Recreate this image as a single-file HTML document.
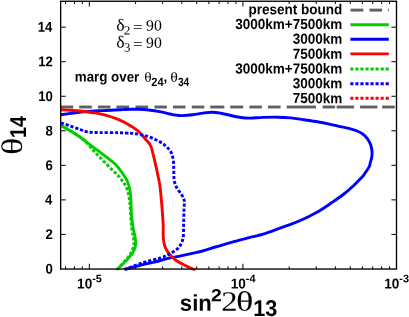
<!DOCTYPE html>
<html><head><meta charset="utf-8"><title>plot</title>
<style>html,body{margin:0;padding:0;background:#fff}body{width:409px;height:317px;position:relative;overflow:hidden}</style></head>
<body>
<svg width="409" height="317" viewBox="0 0 409 317" style="position:absolute;left:0;top:0">
<defs><clipPath id="c"><rect x="60.65" y="1.25" width="335.85" height="269.40"/></clipPath></defs>
<g fill="none" stroke-width="2.90" stroke-linejoin="round" clip-path="url(#c)">
<rect x="60.90" y="105.55" width="12.40" height="2.9" fill="#606060" stroke="none"/>
<rect x="79.20" y="105.55" width="12.60" height="2.9" fill="#606060" stroke="none"/>
<rect x="98.00" y="105.55" width="12.50" height="2.9" fill="#606060" stroke="none"/>
<rect x="116.50" y="105.55" width="12.50" height="2.9" fill="#606060" stroke="none"/>
<rect x="135.50" y="105.55" width="12.60" height="2.9" fill="#606060" stroke="none"/>
<rect x="154.40" y="105.55" width="12.50" height="2.9" fill="#606060" stroke="none"/>
<rect x="173.00" y="105.55" width="12.50" height="2.9" fill="#606060" stroke="none"/>
<rect x="191.80" y="105.55" width="12.50" height="2.9" fill="#606060" stroke="none"/>
<rect x="210.30" y="105.55" width="14.00" height="2.9" fill="#606060" stroke="none"/>
<rect x="230.20" y="105.55" width="13.00" height="2.9" fill="#606060" stroke="none"/>
<rect x="249.40" y="105.55" width="12.50" height="2.9" fill="#606060" stroke="none"/>
<rect x="267.90" y="105.55" width="12.70" height="2.9" fill="#606060" stroke="none"/>
<rect x="286.70" y="105.55" width="29.30" height="2.9" fill="#606060" stroke="none"/>
<rect x="322.60" y="105.55" width="12.60" height="2.9" fill="#606060" stroke="none"/>
<rect x="336.60" y="105.55" width="17.40" height="2.9" fill="#606060" stroke="none"/>
<rect x="360.10" y="105.55" width="17.30" height="2.9" fill="#606060" stroke="none"/>
<rect x="382.20" y="105.55" width="12.60" height="2.9" fill="#606060" stroke="none"/>
<path d="M60.90 125.60 C62.45 126.45 66.97 128.77 70.20 130.70 C73.43 132.63 76.52 134.50 80.30 137.20 C84.08 139.90 88.70 143.70 92.90 146.90 C97.10 150.10 101.72 153.45 105.50 156.40 C109.28 159.35 112.57 161.50 115.60 164.60 C118.63 167.70 121.72 172.18 123.70 175.00 C125.68 177.82 126.45 178.93 127.50 181.50 C128.55 184.07 129.43 187.23 130.00 190.40 C130.57 193.57 130.65 196.37 130.90 200.50 C131.15 204.63 131.13 210.65 131.50 215.20 C131.87 219.75 132.48 224.02 133.10 227.80 C133.72 231.58 134.80 234.95 135.20 237.90 C135.60 240.85 135.93 242.98 135.50 245.50 C135.07 248.02 134.13 250.48 132.60 253.00 C131.07 255.52 128.78 257.93 126.30 260.60 C123.82 263.27 119.27 267.50 117.70 269.00 C116.13 270.50 117.03 269.50 116.90 269.60" stroke="#00cc00"/>
<path d="M60.90 114.70 C62.55 114.48 66.52 113.92 70.80 113.40 C75.08 112.88 81.33 112.07 86.60 111.60 C91.87 111.13 97.67 110.87 102.40 110.60 C107.13 110.33 111.58 110.17 115.00 110.00 C118.42 109.83 120.27 109.72 122.90 109.60 C125.53 109.48 128.17 109.35 130.80 109.30 C133.43 109.25 136.07 109.23 138.70 109.30 C141.33 109.37 143.97 109.47 146.60 109.70 C149.23 109.93 151.87 110.28 154.50 110.70 C157.13 111.12 159.77 111.65 162.40 112.20 C165.03 112.75 168.15 113.53 170.30 114.00 C172.45 114.47 173.27 114.73 175.30 115.00 C177.33 115.27 179.57 115.63 182.50 115.60 C185.43 115.57 189.48 115.22 192.90 114.80 C196.32 114.38 199.77 113.53 203.00 113.10 C206.23 112.67 209.35 112.18 212.30 112.20 C215.25 112.22 217.62 112.65 220.70 113.20 C223.78 113.75 227.43 114.78 230.80 115.50 C234.17 116.22 237.70 117.07 240.90 117.50 C244.10 117.93 246.37 118.12 250.00 118.10 C253.63 118.08 258.05 117.55 262.70 117.40 C267.35 117.25 273.27 117.12 277.90 117.20 C282.53 117.28 286.30 117.50 290.50 117.90 C294.70 118.30 298.88 119.00 303.10 119.60 C307.32 120.20 311.58 120.80 315.80 121.50 C320.02 122.20 324.37 122.95 328.40 123.80 C332.43 124.65 336.75 125.88 340.00 126.60 C343.25 127.32 345.27 127.45 347.90 128.10 C350.53 128.75 353.38 129.57 355.80 130.50 C358.22 131.43 360.52 132.38 362.40 133.70 C364.28 135.02 365.78 136.70 367.10 138.40 C368.42 140.10 369.50 141.97 370.30 143.90 C371.10 145.83 371.63 147.92 371.90 150.00 C372.17 152.08 372.17 154.28 371.90 156.40 C371.63 158.52 370.77 160.95 370.30 162.70 C369.83 164.45 370.13 164.93 369.10 166.90 C368.07 168.87 365.35 172.72 364.10 174.50 C362.85 176.28 363.28 175.82 361.60 177.60 C359.92 179.38 356.95 182.47 354.00 185.20 C351.05 187.93 347.65 191.07 343.90 194.00 C340.15 196.93 335.83 199.83 331.50 202.80 C327.17 205.77 322.27 209.23 317.90 211.80 C313.53 214.37 309.52 216.23 305.30 218.20 C301.08 220.17 296.82 221.95 292.60 223.60 C288.38 225.25 284.90 226.35 280.00 228.10 C275.10 229.85 267.68 232.68 263.20 234.10 C258.72 235.52 256.88 235.65 253.10 236.60 C249.32 237.55 244.70 238.67 240.50 239.80 C236.30 240.93 232.10 242.20 227.90 243.40 C223.70 244.60 219.52 245.73 215.30 247.00 C211.08 248.27 206.25 249.97 202.60 251.00 C198.95 252.03 197.03 252.38 193.40 253.20 C189.77 254.02 185.02 255.03 180.80 255.90 C176.58 256.77 172.32 257.42 168.10 258.40 C163.88 259.38 159.70 260.75 155.50 261.80 C151.30 262.85 148.07 263.42 142.90 264.70 C137.73 265.98 127.57 268.70 124.50 269.50" stroke="#0000ff"/>
<path d="M60.90 109.80 C62.42 109.88 66.77 110.10 70.00 110.30 C73.23 110.50 76.48 110.60 80.30 111.00 C84.12 111.40 88.70 112.02 92.90 112.70 C97.10 113.38 101.30 114.00 105.50 115.10 C109.70 116.20 114.43 117.83 118.10 119.30 C121.77 120.77 124.25 122.02 127.50 123.90 C130.75 125.78 134.55 128.00 137.60 130.60 C140.65 133.20 143.60 136.88 145.80 139.50 C148.00 142.12 149.33 142.82 150.80 146.30 C152.27 149.78 153.50 155.95 154.60 160.40 C155.70 164.85 156.52 168.80 157.40 173.00 C158.28 177.20 159.27 181.40 159.90 185.60 C160.53 189.80 160.78 193.70 161.20 198.20 C161.62 202.70 162.07 208.08 162.40 212.60 C162.73 217.12 163.05 221.08 163.20 225.30 C163.35 229.52 163.00 234.33 163.30 237.90 C163.60 241.47 164.08 244.13 165.00 246.70 C165.92 249.27 167.05 251.08 168.80 253.30 C170.55 255.52 172.67 257.92 175.50 260.00 C178.33 262.08 182.80 264.25 185.80 265.80 C188.80 267.35 191.88 268.57 193.50 269.30 C195.12 270.03 195.17 270.05 195.50 270.20" stroke="#ff0000"/>
<path d="M60.90 125.60 C62.45 126.45 66.97 128.77 70.20 130.70 C73.43 132.63 77.58 135.23 80.30 137.20 C83.02 139.17 84.40 140.37 86.50 142.50 C88.60 144.63 90.57 147.42 92.90 150.00 C95.23 152.58 97.55 154.95 100.50 158.00 C103.45 161.05 107.35 165.00 110.60 168.30 C113.85 171.60 117.33 174.53 120.00 177.80 C122.67 181.07 125.00 184.12 126.60 187.90 C128.20 191.68 128.93 195.95 129.60 200.50 C130.27 205.05 130.25 210.65 130.60 215.20 C130.95 219.75 131.22 224.02 131.70 227.80 C132.18 231.58 133.17 234.95 133.50 237.90 C133.83 240.85 134.27 242.72 133.70 245.50 C133.13 248.28 131.77 251.80 130.10 254.60 C128.43 257.40 125.90 259.80 123.70 262.30 C121.50 264.80 118.03 268.38 116.90 269.60" stroke="#00cc00" stroke-dasharray="3.15 1.9"/>
<path d="M60.90 122.80 C62.45 123.33 66.97 124.88 70.20 126.00 C73.43 127.12 77.37 128.50 80.30 129.50 C83.23 130.50 84.43 131.48 87.80 132.00 C91.17 132.52 95.47 132.48 100.50 132.60 C105.53 132.72 112.95 132.58 118.00 132.70 C123.05 132.82 127.95 133.13 130.80 133.30 C133.65 133.47 132.70 133.32 135.10 133.70 C137.50 134.08 141.83 134.63 145.20 135.60 C148.57 136.57 152.15 138.00 155.30 139.50 C158.45 141.00 161.50 142.52 164.10 144.60 C166.70 146.68 169.35 149.27 170.90 152.00 C172.45 154.73 172.92 157.92 173.40 161.00 C173.88 164.08 173.67 167.33 173.80 170.50 C173.93 173.67 173.73 177.17 174.20 180.00 C174.67 182.83 175.38 185.07 176.60 187.50 C177.82 189.93 180.27 192.60 181.50 194.60 C182.73 196.60 183.53 197.93 184.00 199.50 C184.47 201.07 184.32 201.82 184.30 204.00 C184.28 206.18 184.02 209.05 183.90 212.60 C183.78 216.15 183.75 220.98 183.60 225.30 C183.45 229.62 183.78 234.83 183.00 238.50 C182.22 242.17 180.93 244.83 178.90 247.30 C176.87 249.77 173.85 251.53 170.80 253.30 C167.75 255.07 165.25 256.33 160.60 257.90 C155.95 259.47 148.92 260.77 142.90 262.70 C136.88 264.63 127.57 268.37 124.50 269.50" stroke="#0000ff" stroke-dasharray="3.15 1.9"/>
</g>
<g stroke="#000" stroke-width="1.35" fill="none">
<rect x="60.65" y="1.25" width="335.85" height="267.80"/>
</g><g stroke="#000" stroke-width="1.0" fill="none">
<path d="M65.56 269.05 v-2.70 M65.56 1.25 v2.70"/>
<path d="M74.47 269.05 v-2.70 M74.47 1.25 v2.70"/>
<path d="M82.32 269.05 v-2.70 M82.32 1.25 v2.70"/>
<path d="M89.35 269.05 v-5.30 M89.35 1.25 v5.30"/>
<path d="M135.58 269.05 v-2.70 M135.58 1.25 v2.70"/>
<path d="M162.63 269.05 v-2.70 M162.63 1.25 v2.70"/>
<path d="M181.81 269.05 v-2.70 M181.81 1.25 v2.70"/>
<path d="M196.70 269.05 v-2.70 M196.70 1.25 v2.70"/>
<path d="M208.86 269.05 v-2.70 M208.86 1.25 v2.70"/>
<path d="M219.14 269.05 v-2.70 M219.14 1.25 v2.70"/>
<path d="M228.05 269.05 v-2.70 M228.05 1.25 v2.70"/>
<path d="M235.90 269.05 v-2.70 M235.90 1.25 v2.70"/>
<path d="M242.93 269.05 v-5.30 M242.93 1.25 v5.30"/>
<path d="M289.16 269.05 v-2.70 M289.16 1.25 v2.70"/>
<path d="M316.21 269.05 v-2.70 M316.21 1.25 v2.70"/>
<path d="M335.39 269.05 v-2.70 M335.39 1.25 v2.70"/>
<path d="M350.28 269.05 v-2.70 M350.28 1.25 v2.70"/>
<path d="M362.44 269.05 v-2.70 M362.44 1.25 v2.70"/>
<path d="M372.72 269.05 v-2.70 M372.72 1.25 v2.70"/>
<path d="M381.63 269.05 v-2.70 M381.63 1.25 v2.70"/>
<path d="M389.48 269.05 v-2.70 M389.48 1.25 v2.70"/>
<path d="M60.65 234.41 h5.1 M396.50 234.41 h-5.1"/>
<path d="M60.65 199.87 h5.1 M396.50 199.87 h-5.1"/>
<path d="M60.65 165.33 h5.1 M396.50 165.33 h-5.1"/>
<path d="M60.65 130.79 h5.1 M396.50 130.79 h-5.1"/>
<path d="M60.65 96.25 h5.1 M396.50 96.25 h-5.1"/>
<path d="M60.65 61.71 h5.1 M396.50 61.71 h-5.1"/>
<path d="M60.65 27.17 h5.1 M396.50 27.17 h-5.1"/>
</g>
<g fill="none" stroke-width="2.90">
<rect x="350.60" y="8.65" width="12.70" height="2.9" fill="#606060"/>
<rect x="369.40" y="8.65" width="12.70" height="2.9" fill="#606060"/>
<rect x="387.90" y="8.65" width="0.80" height="2.9" fill="#606060"/>
<path d="M350.4 24.70 H388.8" stroke="#00cc00"/>
<path d="M350.4 39.30 H388.8" stroke="#0000ff"/>
<path d="M350.4 53.90 H388.8" stroke="#ff0000"/>
<path d="M350.3 69.00 H388.8" stroke="#00cc00" stroke-dasharray="3.15 1.9"/>
<path d="M350.3 83.70 H388.8" stroke="#0000ff" stroke-dasharray="3.15 1.9"/>
<path d="M350.3 98.20 H388.8" stroke="#ff0000" stroke-dasharray="3.15 1.9"/>
</g>
<g fill="#000" style="will-change:opacity;opacity:0.999;text-rendering:geometricPrecision">
<text transform="translate(248.45,14.20) rotate(0.03) scale(0.9950,1.0700)" font-family="Liberation Sans, sans-serif" font-weight="bold" font-size="13.60">present bound</text>
<text transform="translate(235.18,29.02) rotate(0.03) scale(0.9950,1.0700)" font-family="Liberation Sans, sans-serif" font-weight="bold" font-size="13.60">3000km+7500km</text>
<text transform="translate(292.74,43.84) rotate(0.03) scale(0.9950,1.0700)" font-family="Liberation Sans, sans-serif" font-weight="bold" font-size="13.60">3000km</text>
<text transform="translate(292.74,58.66) rotate(0.03) scale(0.9950,1.0700)" font-family="Liberation Sans, sans-serif" font-weight="bold" font-size="13.60">7500km</text>
<text transform="translate(235.18,73.48) rotate(0.03) scale(0.9950,1.0700)" font-family="Liberation Sans, sans-serif" font-weight="bold" font-size="13.60">3000km+7500km</text>
<text transform="translate(292.74,88.30) rotate(0.03) scale(0.9950,1.0700)" font-family="Liberation Sans, sans-serif" font-weight="bold" font-size="13.60">3000km</text>
<text transform="translate(292.74,103.12) rotate(0.03) scale(0.9950,1.0700)" font-family="Liberation Sans, sans-serif" font-weight="bold" font-size="13.60">7500km</text>
<text transform="translate(45.54,273.60) rotate(0.03) scale(0.9700,1.0400)" font-family="Liberation Sans, sans-serif" font-weight="bold" font-size="13.60">0</text>
<text transform="translate(45.54,239.06) rotate(0.03) scale(0.9700,1.0400)" font-family="Liberation Sans, sans-serif" font-weight="bold" font-size="13.60">2</text>
<text transform="translate(45.01,204.52) rotate(0.03) scale(0.9700,1.0400)" font-family="Liberation Sans, sans-serif" font-weight="bold" font-size="13.60">4</text>
<text transform="translate(45.54,169.98) rotate(0.03) scale(0.9700,1.0400)" font-family="Liberation Sans, sans-serif" font-weight="bold" font-size="13.60">6</text>
<text transform="translate(45.41,135.44) rotate(0.03) scale(0.9700,1.0400)" font-family="Liberation Sans, sans-serif" font-weight="bold" font-size="13.60">8</text>
<text transform="translate(38.20,100.90) rotate(0.03) scale(0.9700,1.0400)" font-family="Liberation Sans, sans-serif" font-weight="bold" font-size="13.60">10</text>
<text transform="translate(38.20,66.36) rotate(0.03) scale(0.9700,1.0400)" font-family="Liberation Sans, sans-serif" font-weight="bold" font-size="13.60">12</text>
<text transform="translate(37.68,31.82) rotate(0.03) scale(0.9700,1.0400)" font-family="Liberation Sans, sans-serif" font-weight="bold" font-size="13.60">14</text>
<text transform="translate(77.08,288.50) rotate(0.03) scale(1.0000,1.0500)" font-family="Liberation Sans, sans-serif" font-weight="bold" font-size="13.60">10</text>
<text transform="translate(92.17,282.15) rotate(0.03) scale(1.0000,1.0000)" font-family="Liberation Sans, sans-serif" font-weight="bold" font-size="10.90">-5</text>
<text transform="translate(230.66,288.50) rotate(0.03) scale(1.0000,1.0500)" font-family="Liberation Sans, sans-serif" font-weight="bold" font-size="13.60">10</text>
<text transform="translate(245.75,282.15) rotate(0.03) scale(1.0000,1.0000)" font-family="Liberation Sans, sans-serif" font-weight="bold" font-size="10.90">-4</text>
<text transform="translate(384.24,288.50) rotate(0.03) scale(1.0000,1.0500)" font-family="Liberation Sans, sans-serif" font-weight="bold" font-size="13.60">10</text>
<text transform="translate(399.33,282.15) rotate(0.03) scale(1.0000,1.0000)" font-family="Liberation Sans, sans-serif" font-weight="bold" font-size="10.90">-3</text>
<text transform="translate(116.27,30.50) rotate(0.03) scale(1.0598,1.0000)" font-family="Liberation Serif, serif" font-weight="normal" font-size="16.80">δ</text>
<text transform="translate(123.86,34.50) rotate(0.03) scale(1.0647,1.0000)" font-family="Liberation Serif, serif" font-weight="normal" font-size="12.60">2</text>
<text transform="translate(132.92,31.40) rotate(0.03) scale(1.2654,1.0000)" font-family="Liberation Serif, serif" font-weight="normal" font-size="13.50">=</text>
<text transform="translate(146.03,30.60) rotate(0.03) scale(1.0093,1.0000)" font-family="Liberation Serif, serif" font-weight="normal" font-size="15.60">90</text>
<text transform="translate(116.27,47.60) rotate(0.03) scale(1.0598,1.0000)" font-family="Liberation Serif, serif" font-weight="normal" font-size="16.80">δ</text>
<text transform="translate(123.89,51.60) rotate(0.03) scale(1.0151,1.0000)" font-family="Liberation Serif, serif" font-weight="normal" font-size="12.60">3</text>
<text transform="translate(132.92,48.50) rotate(0.03) scale(1.2654,1.0000)" font-family="Liberation Serif, serif" font-weight="normal" font-size="13.50">=</text>
<text transform="translate(146.03,47.70) rotate(0.03) scale(1.0093,1.0000)" font-family="Liberation Serif, serif" font-weight="normal" font-size="15.60">90</text>
<text transform="translate(74.80,81.60) rotate(0.03) scale(0.9812,1.0500)" font-family="Liberation Sans, sans-serif" font-weight="bold" font-size="13.60">marg over</text>
<text transform="translate(144.18,81.60) rotate(0.03) scale(1.1567,1.0000)" font-family="Liberation Serif, serif" font-weight="normal" font-size="13.40">θ</text>
<text transform="translate(151.37,86.10) rotate(0.03) scale(0.9864,1.0700)" font-family="Liberation Sans, sans-serif" font-weight="bold" font-size="11.20">24</text>
<text transform="translate(163.58,81.60) rotate(0.03) scale(1.0000,1.0500)" font-family="Liberation Sans, sans-serif" font-weight="bold" font-size="13.60">,</text>
<text transform="translate(170.26,81.60) rotate(0.03) scale(1.1940,1.0000)" font-family="Liberation Serif, serif" font-weight="normal" font-size="13.40">θ</text>
<text transform="translate(177.90,86.10) rotate(0.03) scale(0.9123,1.0700)" font-family="Liberation Sans, sans-serif" font-weight="bold" font-size="11.20">34</text>
<text transform="translate(179.84,310.80) rotate(0.03) scale(0.9847,1.0200)" font-family="Liberation Sans, sans-serif" font-weight="bold" font-size="22.50">sin</text>
<text transform="translate(211.12,301.20) rotate(0.03) scale(1.1079,1.0000)" font-family="Liberation Sans, sans-serif" font-weight="bold" font-size="17.50">2</text>
<text transform="translate(221.29,310.70) rotate(0.03) scale(1.1672,1.0000)" font-family="Liberation Serif, serif" font-weight="normal" font-size="28.00">2</text>
<text transform="translate(236.05,310.80) rotate(0.03) scale(1.2855,1.0000)" font-family="Liberation Serif, serif" font-weight="normal" font-size="28.20">θ</text>
<text transform="translate(253.20,316.00) rotate(0.03) scale(0.9496,1.0000)" font-family="Liberation Sans, sans-serif" font-weight="bold" font-size="22.80">13</text>
<text transform="translate(22.10,154.95) rotate(-90) scale(1.2164,1.0000)" font-family="Liberation Serif, serif" font-weight="normal" font-size="29.80">θ</text>
<text transform="translate(26.00,137.98) rotate(-90) scale(0.8753,1.0200)" font-family="Liberation Sans, sans-serif" font-weight="bold" font-size="22.50">14</text>
</g>
</svg>
</body></html>
